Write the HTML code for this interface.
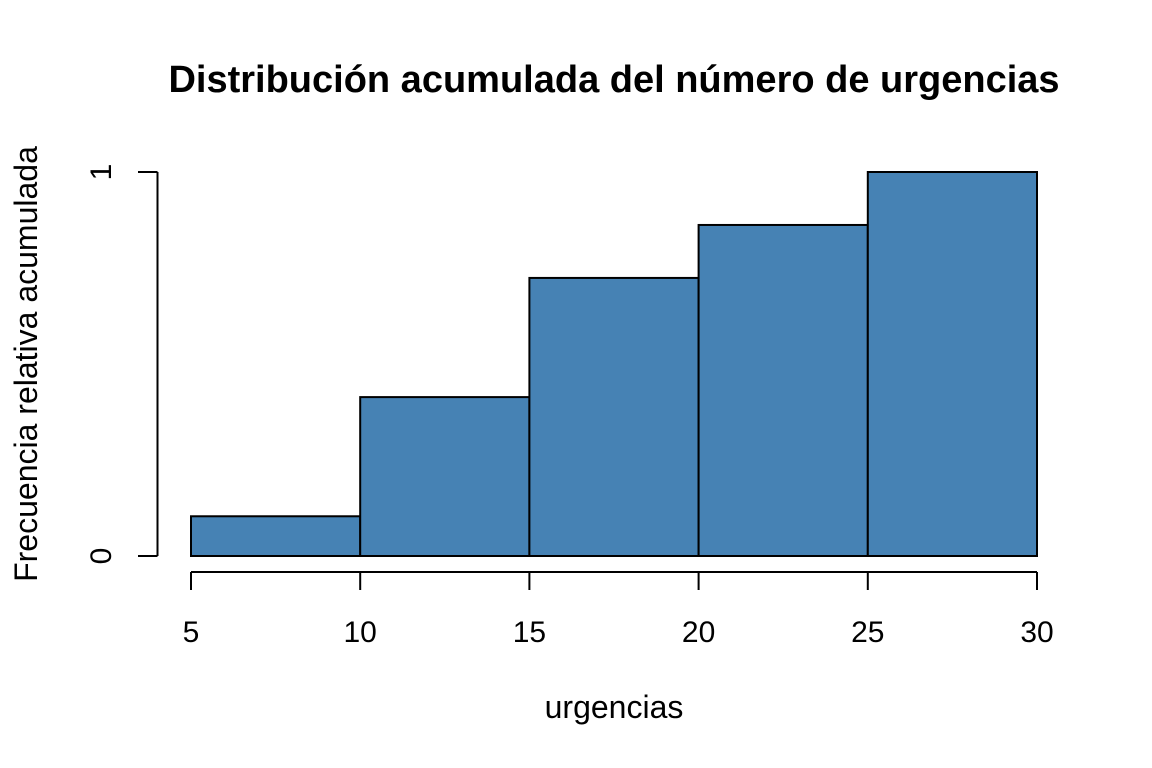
<!DOCTYPE html>
<html><head><meta charset="utf-8"><style>
body{margin:0;background:#fff;}
svg{display:block;font-family:"Liberation Sans",sans-serif;}
</style></head><body>
<svg id="chart" width="1152" height="768">
<text x="614" y="92" text-anchor="middle" font-size="38" font-weight="bold">Distribución acumulada del número de urgencias</text>
<text x="614" y="718" text-anchor="middle" font-size="32">urgencias</text>
<text transform="translate(37,364) rotate(-90)" text-anchor="middle" font-size="32">Frecuencia relativa acumulada</text>
<g id="bars"></g><g id="xaxis"></g><g id="yaxis"></g>
</svg>
<script>
const breaks=[5,10,15,20,25,30];
const cumFreq=[3/29,12/29,21/29,25/29,29/29];
const xTicks=[5,10,15,20,25,30];
const yTicks=[0,1];
const NS="http://www.w3.org/2000/svg";
const xs=v=>191+(v-5)*(1037-191)/25;
const ys=v=>556-v*384;
function mk(t,a,p){const e=document.createElementNS(NS,t);for(const k in a)e.setAttribute(k,a[k]);p.appendChild(e);return e;}
const bars=document.getElementById('bars');
cumFreq.forEach((v,i)=>{
 const r=mk('rect',{x:xs(breaks[i]),y:ys(v),width:xs(breaks[i+1])-xs(breaks[i]),height:ys(0)-ys(v),fill:'#4682b4',stroke:'#000','stroke-width':2},bars);
 
 
});
const xa=document.getElementById('xaxis');


mk('line',{x1:xs(xTicks[0]),x2:xs(xTicks[xTicks.length-1]),y1:572,y2:572,stroke:'#000','stroke-width':2},xa);
xTicks.forEach(t=>{
 mk('line',{x1:xs(t),x2:xs(t),y1:572,y2:590,stroke:'#000','stroke-width':2},xa);
 const tx=mk('text',{x:xs(t),y:642,'text-anchor':'middle','font-size':30},xa);tx.textContent=t;
 
 
});
const ya=document.getElementById('yaxis');


mk('line',{x1:157.5,x2:157.5,y1:ys(yTicks[yTicks.length-1]),y2:ys(yTicks[0]),stroke:'#000','stroke-width':2},ya);
yTicks.forEach(t=>{
 mk('line',{x1:138,x2:157.5,y1:ys(t),y2:ys(t),stroke:'#000','stroke-width':2},ya);
 const tx=mk('text',{transform:`translate(111,${ys(t)}) rotate(-90)`,'text-anchor':'middle','font-size':30},ya);tx.textContent=t;
 
 
});
</script>
</body></html>
